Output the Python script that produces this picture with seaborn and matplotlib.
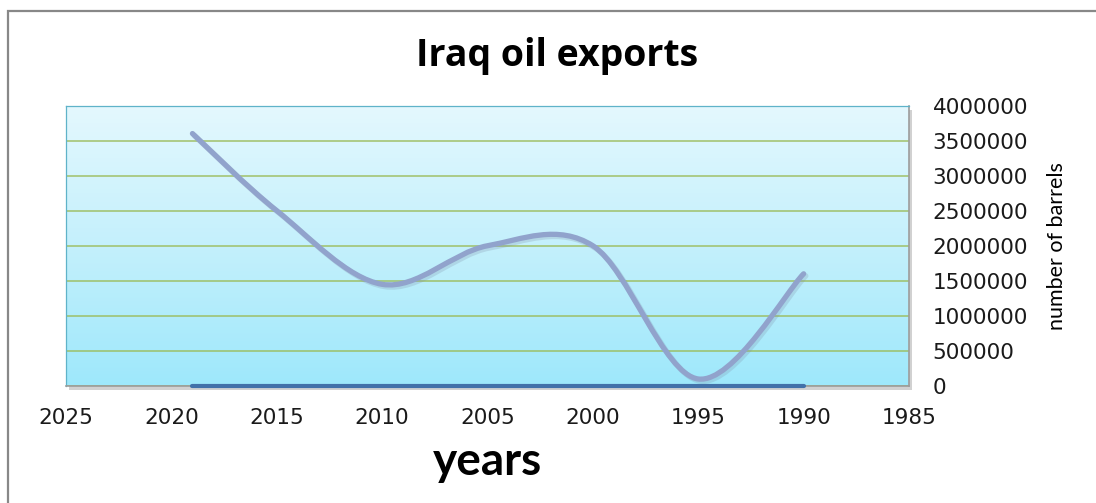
import numpy as np
import matplotlib
matplotlib.use("Agg")
import matplotlib.pyplot as plt
import seaborn as sns
import pandas as pd
from matplotlib.path import Path
from matplotlib.patches import PathPatch, Rectangle
from matplotlib.colors import LinearSegmentedColormap
from matplotlib.transforms import ScaledTranslation

# ---------------- data ----------------
years = [2019, 2015, 2010, 2005, 2000, 1995, 1990]
barrels = [3600000, 2500000, 1450000, 2000000, 2000000, 100000, 1600000]
baseline = [0, 0, 0, 0, 0, 0, 0]
x_ticks = [2025, 2020, 2015, 2010, 2005, 2000, 1995, 1990, 1985]
y_ticks = [0, 500000, 1000000, 1500000, 2000000, 2500000, 3000000, 3500000, 4000000]
title = "Iraq oil exports"
x_label = "years"
y_label = "number of barrels"

sns.set_theme(style="white")
plt.rcParams['font.family'] = ['DejaVu Sans']

W, H = 1096, 503
fig = plt.figure(figsize=(W / 100, H / 100), dpi=100)
fig.patch.set_facecolor("white")

L, R, T, B = 66, 909, 105.5, 386
ax = fig.add_axes([L / W, 1 - B / H, (R - L) / W, (B - T) / H])

df = pd.DataFrame({"year": years, "barrels": barrels, "baseline": baseline})

ax.set_xlim(x_ticks[0], x_ticks[-1])
ax.set_ylim(y_ticks[0], y_ticks[-1])

# gradient background
grad = np.linspace(0, 1, 256).reshape(-1, 1)
cmap = LinearSegmentedColormap.from_list("bg", ["#9ee8fb", "#c4f0fc", "#e4f8fe"])
ax.imshow(grad, extent=[x_ticks[0], x_ticks[-1], y_ticks[0], y_ticks[-1]],
          origin="lower", cmap=cmap, aspect="auto", zorder=0)

# plot-area drop shadow
shadow = Rectangle(((L + 3) / W, 1 - (B + 4) / H), (R - L) / W, (B - T) / H,
                   transform=fig.transFigure, facecolor="#9a9a9a", alpha=0.45,
                   edgecolor="none", zorder=-1)
fig.add_artist(shadow)

# outer chart border (only left and top visible)
fig.add_artist(Rectangle((8 / W, -0.1), 1.2, 1.1 - 11 / H, transform=fig.transFigure,
                         fill=False, edgecolor="#888888", lw=1.6, zorder=5))

# grid
ax.set_yticks(y_ticks)
ax.set_xticks(x_ticks)
ax.grid(axis="y", color="#9bbb59", lw=1.1, alpha=0.9)
ax.grid(axis="x", visible=False)


# smoothed line (Bezier through data points)
def smooth_path(xs, ys):
    pts = list(zip(xs, ys))
    n = len(pts)
    verts = [pts[0]]
    codes = [Path.MOVETO]
    for i in range(n - 1):
        p0 = pts[i - 1] if i > 0 else pts[i]
        p1 = pts[i]
        p2 = pts[i + 1]
        p3 = pts[i + 2] if i + 2 < n else pts[i + 1]
        c1 = (p1[0] + (p2[0] - p0[0]) / 6, p1[1] + (p2[1] - p0[1]) / 6)
        c2 = (p2[0] - (p3[0] - p1[0]) / 6, p2[1] - (p3[1] - p1[1]) / 6)
        verts += [c1, c2, p2]
        codes += [Path.CURVE4] * 3
    return Path(verts, codes)


path = smooth_path(df["year"].tolist(), df["barrels"].tolist())
sh = PathPatch(path, fill=False, edgecolor="#7f8fa8", lw=4.0, alpha=0.25,
               capstyle="round", joinstyle="round", zorder=2.5,
               transform=ax.transData + ScaledTranslation(1.5 / 72, -1.5 / 72, fig.dpi_scale_trans))
ax.add_patch(sh)
ax.add_patch(PathPatch(path, fill=False, edgecolor="#91a3cc", lw=3.8,
                       capstyle="round", joinstyle="round", zorder=3))

# second series along zero
sns.lineplot(data=df, x="year", y="baseline", ax=ax, color="#4271a9", lw=3.0,
             zorder=4, clip_on=False, solid_capstyle="round")

ax.set_xlim(x_ticks[0], x_ticks[-1])
ax.set_ylim(y_ticks[0], y_ticks[-1])

# ticks
ax.yaxis.tick_right()
ax.set_xticklabels([str(v) for v in x_ticks])
ax.set_yticklabels([str(v) for v in y_ticks])
ax.tick_params(axis="x", length=0, pad=16, labelsize=15.5, labelcolor="#1a1a1a")
ax.tick_params(axis="y", length=0, pad=17, labelsize=15.5, labelcolor="#1a1a1a")

# spines
for s in ["top", "left"]:
    ax.spines[s].set_color("#5fb3c9")
    ax.spines[s].set_linewidth(0.9)
for s in ["right", "bottom"]:
    ax.spines[s].set_color("#9c9c9c")
    ax.spines[s].set_linewidth(1.2)

# labels
ax.set_xlabel(x_label, fontsize=33, fontweight="bold", family="Lato", color="black")
ax.xaxis.set_label_coords(0.5, (B - 462) / (B - T))
ax.xaxis.label.set_va("center")

ax.yaxis.set_label_position("right")
ax.set_ylabel(y_label, fontsize=15.5, family="Lato", color="black", rotation=90)
ax.yaxis.set_label_coords((1057 - L) / (R - L), 0.5)
ax.yaxis.label.set_rotation_mode("default")
ax.yaxis.label.set_va("center")
ax.yaxis.label.set_ha("center")

fig.suptitle(title, x=557 / W, y=1 - 66 / H, va="baseline", ha="center",
             fontsize=27, fontweight="bold", family="Open Sans", color="black")

fig.savefig("out.png", dpi=100, facecolor="white")
